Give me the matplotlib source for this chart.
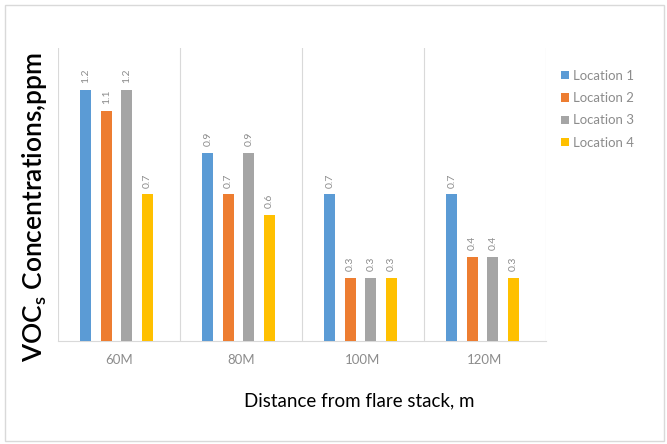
import numpy as np
from matplotlib import pyplot as plt
from matplotlib.patches import Rectangle

distances = ['60M', '80M', '100M', '120M']
locations = ['Location 1', 'Location 2', 'Location 3', 'Location 4']
loc1 = [1.2, 0.9, 0.7, 0.7]
loc2 = [1.1, 0.7, 0.3, 0.4]
loc3 = [1.2, 0.9, 0.3, 0.4]
loc4 = [0.7, 0.6, 0.3, 0.3]
colors = ['#5B9BD5', '#ED7D31', '#A5A5A5', '#FFC000']

plt.rcParams['font.family'] = ['Lato', 'DejaVu Sans']

def main():
    fig = plt.figure(figsize=(6.67, 4.44), dpi=100)
    ax = fig.add_axes([58 / 667, 103 / 444, 488 / 667, 293 / 444])

    x = np.arange(len(distances))
    width = 0.09
    step = 0.168
    for i, (name, vals) in enumerate(zip(locations, [loc1, loc2, loc3, loc4])):
        pos = x + (i - 1.5) * step - 0.02
        bars = ax.bar(pos, vals, width, color=colors[i], label=name, zorder=3)
        for b, v in zip(bars, vals):
            ax.annotate(f'{v}', (b.get_x() + b.get_width() / 2, v),
                        xytext=(0, 5), textcoords='offset points',
                        rotation=90, ha='center', va='bottom',
                        fontsize=7.5, color='#8c8c8c')

    ax.set_xlim(-0.5, len(distances) - 0.5)
    ax.set_ylim(0, 1.4)
    for b in np.arange(len(distances) + 1) - 0.5:
        ax.axvline(b, color='#d9d9d9', lw=0.8, zorder=1)
    for s in ['top', 'right', 'left']:
        ax.spines[s].set_visible(False)
    ax.spines['bottom'].set_color('#d9d9d9')
    ax.set_yticks([])
    ax.set_xticks(x)
    ax.set_xticklabels(distances, fontsize=9.5, color='#8c8c8c')
    ax.tick_params(axis='x', length=0, pad=9)

    ax.legend(loc='upper left', bbox_to_anchor=(549 / 667, 386 / 444),
              bbox_transform=fig.transFigure, frameon=False,
              fontsize=9.5, labelcolor='#8c8c8c', handlelength=0.6,
              handleheight=0.6, handletextpad=0.3, labelspacing=0.78)

    fig.text(35 / 667, 1 - 207 / 444, r'VOC$_\mathregular{s}$ Concentrations,ppm',
             rotation=90, ha='center', va='center', fontsize=19,
             fontweight='semibold', color='black')
    fig.text(359 / 667, 1 - 401 / 444, 'Distance from flare stack, m',
             ha='center', va='center', fontsize=13.5, color='black')

    fig.patches.append(Rectangle((5 / 667, 3 / 444), 659 / 667, 436 / 444,
                                 transform=fig.transFigure, fill=False,
                                 edgecolor='#d9d9d9', lw=1))

    fig.savefig('out.png', dpi=100)

if __name__ == '__main__':
    main()
